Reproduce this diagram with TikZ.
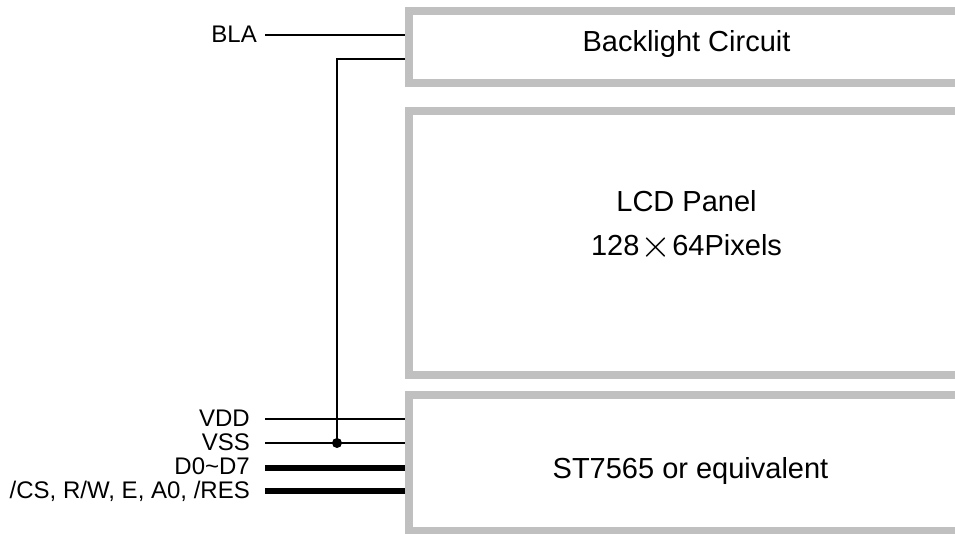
\documentclass[tikz,border=0pt]{standalone}
\usepackage{fontspec}
\setmainfont{Liberation Sans}
\begin{document}
\begin{tikzpicture}[x=1pt,y=1pt,
  frame/.style={draw=framegray, line width=8pt, fill=white, rectangle, minimum width=556pt, inner sep=0pt},
  sig/.style={line width=1.2pt},
  bus/.style={line width=5.5pt},
  pinlabel/.style={font=\fontsize{24}{26}\selectfont, anchor=base east, inner sep=0pt},
  boxtext/.style={font=\fontsize{29}{32}\selectfont, anchor=base, inner sep=0pt}]
\definecolor{framegray}{HTML}{C0C0C0}
\useasboundingbox (0,0) rectangle (955,533);
% boxes
\node[frame, minimum height=72pt] (box1) at (687,486) {};
\node[frame, minimum height=264pt] (box2) at (687,290) {};
\node[frame, minimum height=136pt] (box3) at (687,70) {};
% box texts
\node[boxtext] (t1) at (686.5,481) {Backlight Circuit};
\node[boxtext] (t2a) at (686.5,321) {LCD Panel};
\node[boxtext] (t2b) at (686.5,277) {128\hspace{1pt}\raisebox{-1.5pt}{\scalebox{1.6}{$\times$}}\hspace{1pt}64Pixels};
\node[boxtext] (t3) at (690.5,55) {ST7565 or equivalent};
% line start coordinates
\coordinate (sBLA) at (265,498);
\coordinate (sVDD) at (265,114);
\coordinate (sVSS) at (265,90);
\coordinate (sD) at (265,65);
\coordinate (sCS) at (265,42);
\coordinate (corner) at (337,474);
\coordinate (dot) at (337,90);
% labels
\node[pinlabel] (lBLA) at (257,490.5) {BLA};
\node[pinlabel] (lVDD) at (250,106.5) {VDD};
\node[pinlabel] (lVSS) at (250,82.5) {VSS};
\node[pinlabel] (lD) at (250,58.5) {D0\char`~D7};
\node[pinlabel] (lCS) at (250,35) {/CS, R/W, E, A0, /RES};
% connectors
\draw[sig] (sBLA) -- (sBLA -| box1.west);
\draw[sig] (corner -| box1.west) -- (corner) -- (dot);
\draw[sig] (sVDD) -- (sVDD -| box3.west);
\draw[sig] (sVSS) -- (sVSS -| box3.west);
\draw[bus] (sD) -- (sD -| box3.west);
\draw[bus] (sCS) -- (sCS -| box3.west);
\fill (dot) circle (5pt);
\end{tikzpicture}
\end{document}
